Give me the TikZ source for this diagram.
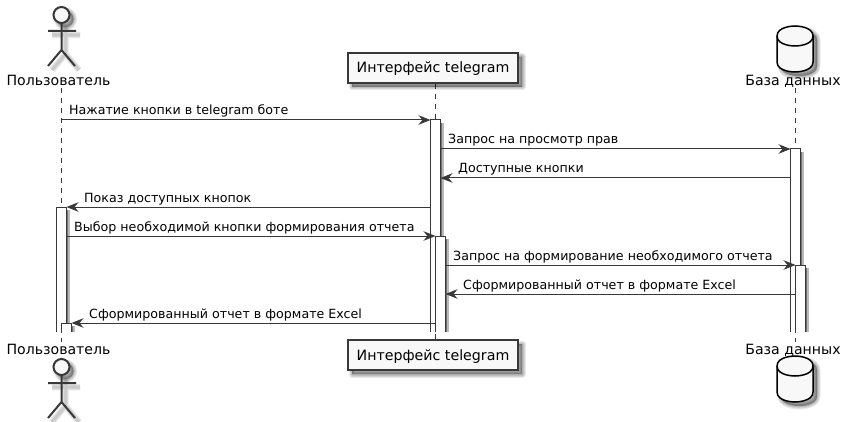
\documentclass[tikz,border=0pt]{standalone}
\usepackage{fontspec}
\setmainfont{DejaVu Sans}
\usetikzlibrary{arrows.meta}
\definecolor{ln}{HTML}{383838}
\definecolor{pf}{HTML}{F8F8F8}
\newcommand\softshadow[1]{\foreach \w in {7,5,3,1}{\path[draw=black,fill=black,draw opacity=.09,fill opacity=.09,line width=\w pt,line join=round,xshift=4pt,yshift=-4pt] #1;}}
\newcommand\strokeshadow[1]{\foreach \w in {7,5.5,4,2.5}{\path[draw=black,draw opacity=.055,line width=\w pt,line join=round,xshift=4pt,yshift=-4pt] #1;}}
% \actbar{name}{left x}{top y}
\newcommand\actbar[3]{%
  \fill[black!55] (#2+10,#3+3) rectangle (#2+11.5,332);
  \fill[black!28] (#2+11.5,#3+3) rectangle (#2+13,332);
  \path[fill=white] (#2,#3) rectangle (#2+10,332);
  \coordinate (#1) at (#2,#3);
  \draw[ln,line width=1pt] (#2,332) -- (#2,#3) -- (#2+10,#3) -- (#2+10,332);
}
% actor, head centre at y = #1
\newcommand\actorfig[1]{%
  \strokeshadow{(61.5,#1+8) -- (61.5,#1+35) (48,#1+16) -- (76,#1+16) (48,#1+51) -- (61.5,#1+35) -- (75,#1+51)}
  \softshadow{(61.5,#1) circle[radius=8]}
  \draw[ln,line width=2pt] (61.5,#1+8) -- (61.5,#1+35) (48,#1+16) -- (76,#1+16) (48,#1+51) -- (61.5,#1+35) -- (75,#1+51);
  \draw[ln,line width=2pt,fill=pf] (61.5,#1) circle[radius=8];
}
% database, top at y = #1
\newcommand\dbfig[1]{%
  \softshadow{(777,#1+10) .. controls (777,#1) and (795,#1) .. (795,#1) .. controls (795,#1) and (813,#1) .. (813,#1+10) -- (813,#1+36) .. controls (813,#1+46) and (795,#1+46) .. (795,#1+46) .. controls (795,#1+46) and (777,#1+46) .. (777,#1+36) -- cycle}
  \draw[black,line width=1.5pt,fill=pf] (777,#1+10) .. controls (777,#1) and (795,#1) .. (795,#1) .. controls (795,#1) and (813,#1) .. (813,#1+10) -- (813,#1+36) .. controls (813,#1+46) and (795,#1+46) .. (795,#1+46) .. controls (795,#1+46) and (777,#1+46) .. (777,#1+36) -- cycle;
  \draw[black,line width=1.5pt] (777,#1+10) .. controls (777,#1+20) and (795,#1+20) .. (795,#1+20) .. controls (795,#1+20) and (813,#1+20) .. (813,#1+10);
}
\tikzset{
  x=1pt,y=-1pt,
  msg/.style={draw=ln,line width=1pt,-{Stealth[length=12pt,width=9.5pt,inset=4pt,fill=ln]}},
  lifeline/.style={draw=ln,line width=1pt,dash pattern=on 5pt off 5pt},
  partbox/.style={draw=ln,line width=1.6pt,fill=pf,minimum width=170pt,minimum height=30pt,inner sep=0pt,text height=13pt,text depth=3pt,font=\fontsize{14.2}{16}\selectfont},
  lbl/.style={anchor=base west,inner sep=0pt,font=\fontsize{12.65}{15}\selectfont},
  actorname/.style={anchor=base,inner sep=0pt,font=\fontsize{14.1}{16}\selectfont},
}
\begin{document}
\begin{tikzpicture}
\useasboundingbox (0,0) rectangle (845,422);
\fill[white] (0,0) rectangle (845,422);
% lifelines
\coordinate (uT) at (61.5,88); \coordinate (uB) at (61.5,342);
\coordinate (tT) at (435.5,84); \coordinate (tB) at (435.5,340);
\coordinate (dT) at (795.5,88); \coordinate (dB) at (795.5,342);
\draw[lifeline] (uT) -- (uB);
\draw[lifeline] (tT) -- (tB);
\draw[lifeline] (dT) -- (dB);
% participants
\actorfig{15}
\node[actorname] (uTop) at (58.5,86) {Пользователь};
\actorfig{367}
\node[actorname] (uBot) at (58.5,354) {Пользователь};
\softshadow{(348,53) rectangle (518,83)}
\node[partbox] (tTop) at (433,68) {Интерфейс telegram};
\softshadow{(348,340) rectangle (518,370)}
\node[partbox] (tBot) at (433,355) {Интерфейс telegram};
\dbfig{26}
\node[actorname] (dTop) at (793,86) {База данных};
\dbfig{356}
\node[actorname] (dBot) at (793,354) {База данных};
% activation bars
\actbar{ub1}{56.5}{207}
\actbar{ub2}{61.5}{323}
\actbar{tb1}{430.5}{120}
\actbar{tb2}{435.5}{236}
\actbar{db1}{790.5}{149}
\actbar{db2}{795.5}{265}
% messages
\coordinate (m1s) at (61.5,120);  \coordinate (m1e) at (430.5,120);
\coordinate (m2s) at (440.5,149); \coordinate (m2e) at (790.5,149);
\coordinate (m3s) at (790.5,178); \coordinate (m3e) at (440.5,178);
\coordinate (m4s) at (430.5,207); \coordinate (m4e) at (66.5,207);
\coordinate (m5s) at (66.5,236);  \coordinate (m5e) at (435.5,236);
\coordinate (m6s) at (445.5,265); \coordinate (m6e) at (795.5,265);
\coordinate (m7s) at (795.5,294); \coordinate (m7e) at (445.5,294);
\coordinate (m8s) at (435.5,323); \coordinate (m8e) at (71.5,323);
\foreach \i in {1,...,8}{\draw[msg] (m\i s) -- (m\i e);}
\node[lbl] (l1) at (69,115) {Нажатие кнопки в telegram боте};
\node[lbl] (l2) at (448,144) {Запрос на просмотр прав};
\node[lbl] (l3) at (458,173) {Доступные кнопки};
\node[lbl] (l4) at (84,202) {Показ доступных кнопок};
\node[lbl] (l5) at (74,231) {Выбор необходимой кнопки формирования отчета};
\node[lbl] (l6) at (453,260) {Запрос на формирование необходимого отчета};
\node[lbl] (l7) at (463,289) {Сформированный отчет в формате Excel};
\node[lbl] (l8) at (89,318) {Сформированный отчет в формате Excel};
\end{tikzpicture}
\end{document}
